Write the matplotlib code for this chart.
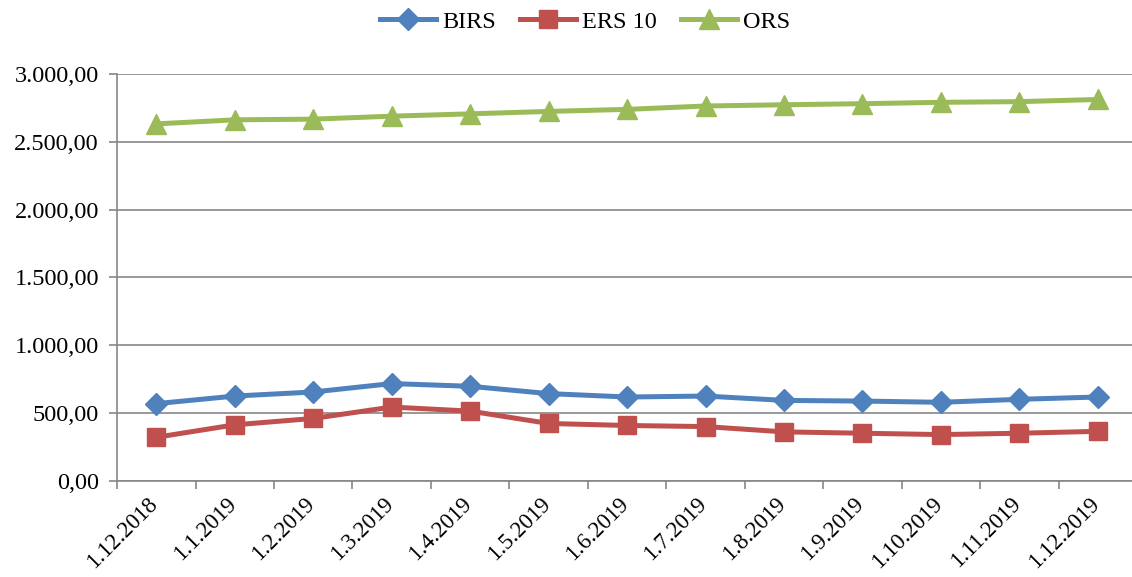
import numpy as np
import matplotlib.pyplot as plt
from matplotlib.ticker import FuncFormatter, FixedLocator
import matplotlib.transforms as mtransforms

plt.rcParams['font.family'] = ['Liberation Serif', 'DejaVu Serif']

dates = ['1.12.2018', '1.1.2019', '1.2.2019', '1.3.2019', '1.4.2019', '1.5.2019',
         '1.6.2019', '1.7.2019', '1.8.2019', '1.9.2019', '1.10.2019', '1.11.2019',
         '1.12.2019']
birs = [570, 626, 656, 718, 698, 644, 619, 626, 594, 589, 580, 602, 619]
ers10 = [322, 414, 461, 545, 515, 424, 409, 401, 362, 352, 342, 352, 366]
ors = [2632, 2662, 2667, 2689, 2706, 2724, 2739, 2764, 2773, 2781, 2791, 2796, 2812]

grey = '#868686'


def fmt(v, pos):
    s = f"{v:,.2f}"
    return s.replace(',', 'X').replace('.', ',').replace('X', '.')


fig = plt.figure(figsize=(11.32, 5.77), dpi=100)
ax = fig.add_axes([0.1034, 0.1664, 0.9011, 0.7054])

x = np.arange(len(dates))
ax.plot(x, birs, color='#4F81BD', lw=3.6, marker='D', ms=11, label='BIRS', zorder=3)
ax.plot(x, ers10, color='#C0504D', lw=3.6, marker='s', ms=13, label='ERS 10', zorder=3)
ax.plot(x, ors, color='#9BBB59', lw=3.6, marker='^', ms=14, label='ORS', zorder=3)

ax.set_xlim(-0.5, len(dates) - 0.5)
ax.set_ylim(0, 3000)
ax.set_yticks(np.arange(0, 3001, 500))
ax.yaxis.set_major_formatter(FuncFormatter(fmt))
ax.yaxis.grid(True, color=grey, lw=1.2)
ax.set_axisbelow(True)

ax.set_xticks(x)
ax.set_xticklabels(dates, rotation=45, ha='right', rotation_mode='anchor')
ax.xaxis.set_minor_locator(FixedLocator(np.arange(-0.5, len(dates), 1.0)))
ax.tick_params(axis='x', which='major', length=0, pad=9, labelsize=16.5)
ax.tick_params(axis='x', which='minor', length=6, color=grey, width=1.2)
ax.tick_params(axis='y', length=6, color=grey, width=1.2, labelsize=17.5, pad=7)
offset = mtransforms.ScaledTranslation(-9 / 100, 0, fig.dpi_scale_trans)
for lab in ax.get_xticklabels():
    lab.set_transform(lab.get_transform() + offset)

for side in ['top', 'right']:
    ax.spines[side].set_visible(False)
for side in ['left', 'bottom']:
    ax.spines[side].set_color(grey)
    ax.spines[side].set_linewidth(1.2)

fig.legend(loc='center', bbox_to_anchor=(0.517, 0.962), ncol=3, frameon=False,
           fontsize=17.5, handlelength=2.3, handletextpad=0.25, columnspacing=1.0)

fig.savefig('out.png', dpi=100)
